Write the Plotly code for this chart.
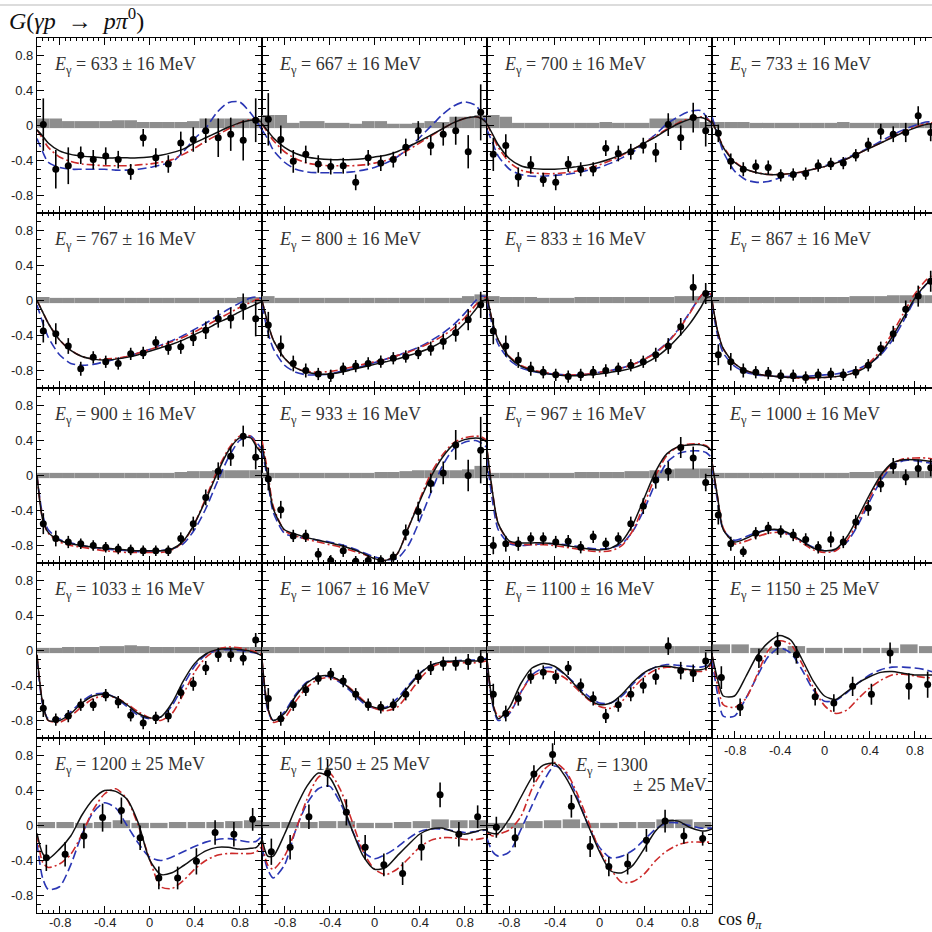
import plotly.graph_objects as go

W = H = 932
LEFT0, TOP0, PW, PH = 37, 38, 225, 175

# ---------------- data ----------------
ENERGY_LABELS = ["633 ± 16", "667 ± 16", "700 ± 16", "733 ± 16",
                 "767 ± 16", "800 ± 16", "833 ± 16", "867 ± 16",
                 "900 ± 16", "933 ± 16", "967 ± 16", "1000 ± 16",
                 "1033 ± 16", "1067 ± 16", "1100 ± 16", "1150 ± 25",
                 "1200 ± 25", "1250 ± 25", "1300 ± 25"]

COS_18 = [-0.944, -0.833, -0.722, -0.611, -0.5, -0.389, -0.278, -0.167, -0.056,
          0.056, 0.167, 0.278, 0.389, 0.5, 0.611, 0.722, 0.833, 0.944]
COS_12 = [-0.917, -0.75, -0.583, -0.417, -0.25, -0.083,
          0.083, 0.25, 0.417, 0.583, 0.75, 0.917]

CURVE_X = [-1, -0.95, -0.9, -0.8, -0.7, -0.6, -0.5, -0.4, -0.3, -0.2, -0.1, 0,
           0.1, 0.2, 0.3, 0.4, 0.5, 0.6, 0.7, 0.8, 0.9, 0.95, 1]

G_VALUES = [
    [0.01, -0.50, -0.46, -0.34, -0.39, -0.35, -0.39, -0.53, -0.14, -0.37, -0.44, -0.20, -0.16, -0.06, -0.14, -0.10, -0.17, 0.06],
    [0.07, -0.16, -0.41, -0.33, -0.44, -0.47, -0.46, -0.65, -0.37, -0.43, -0.39, -0.25, -0.06, -0.23, -0.10, -0.06, -0.30, 0.15],
    [-0.33, -0.23, -0.59, -0.45, -0.62, -0.65, -0.44, -0.50, -0.50, -0.26, -0.32, -0.30, -0.23, -0.31, 0.01, -0.14, 0.09, -0.06],
    [-0.09, -0.41, -0.50, -0.47, -0.48, -0.57, -0.56, -0.55, -0.46, -0.44, -0.43, -0.34, -0.22, -0.07, -0.10, -0.08, 0.11, -0.08],
    [-0.35, -0.38, -0.52, -0.78, -0.65, -0.70, -0.72, -0.61, -0.60, -0.48, -0.54, -0.53, -0.43, -0.34, -0.21, -0.20, -0.07, -0.21],
    [-0.28, -0.52, -0.72, -0.80, -0.84, -0.86, -0.78, -0.75, -0.72, -0.70, -0.66, -0.64, -0.60, -0.55, -0.47, -0.37, -0.22, -0.05],
    [-0.35, -0.52, -0.68, -0.78, -0.82, -0.85, -0.87, -0.85, -0.82, -0.80, -0.78, -0.74, -0.70, -0.62, -0.52, -0.30, 0.15, 0.08],
    [-0.62, -0.70, -0.80, -0.82, -0.83, -0.86, -0.86, -0.88, -0.85, -0.84, -0.85, -0.82, -0.74, -0.55, -0.38, -0.10, 0.05, 0.22],
    [-0.55, -0.72, -0.76, -0.78, -0.80, -0.82, -0.84, -0.85, -0.86, -0.86, -0.86, -0.72, -0.55, -0.25, 0.05, 0.22, 0.45, 0.21],
    [-0.04, -0.39, -0.69, -0.69, -0.90, -0.97, -0.86, -0.98, -0.97, -0.97, -0.93, -0.65, -0.41, -0.09, 0.03, 0.35, 0.00, 0.29],
    [-0.80, -0.78, -0.78, -0.72, -0.72, -0.76, -0.75, -0.82, -0.70, -0.78, -0.72, -0.55, -0.35, -0.05, 0.05, 0.32, 0.20, -0.08],
    [-0.45, -0.78, -0.87, -0.66, -0.60, -0.64, -0.68, -0.73, -0.82, -0.73, -0.76, -0.53, -0.37, -0.10, 0.11, -0.02, 0.08, 0.09],
    [-0.66, -0.79, -0.75, -0.62, -0.62, -0.51, -0.59, -0.74, -0.83, -0.77, -0.75, -0.48, -0.38, -0.20, -0.05, -0.05, -0.09, 0.12],
    [-0.55, -0.78, -0.62, -0.45, -0.32, -0.27, -0.35, -0.50, -0.62, -0.65, -0.62, -0.50, -0.30, -0.20, -0.15, -0.15, -0.13, -0.10],
    [-0.50, -0.72, -0.55, -0.30, -0.25, -0.30, -0.20, -0.40, -0.55, -0.75, -0.62, -0.50, -0.40, -0.30, 0.05, -0.23, -0.26, -0.12],
    [-0.31, -0.65, -0.09, 0.08, -0.05, -0.53, -0.60, -0.41, -0.50, -0.03, -0.41, -0.39],
    [-0.37, -0.33, -0.12, 0.09, 0.17, -0.14, -0.60, -0.60, -0.41, -0.08, -0.10, 0.07],
    [-0.30, -0.25, 0.10, 0.60, 0.15, -0.25, -0.45, -0.55, -0.25, 0.35, -0.10, 0.10],
    [-0.02, -0.14, 0.59, 0.81, 0.22, -0.24, -0.47, -0.44, -0.17, 0.05, -0.12, -0.15],
]

G_ERRORS = [
    [0.30, 0.22, 0.21, 0.10, 0.11, 0.10, 0.10, 0.09, 0.10, 0.11, 0.10, 0.13, 0.14, 0.14, 0.22, 0.19, 0.23, 0.25],
    [0.30, 0.16, 0.13, 0.10, 0.10, 0.09, 0.09, 0.09, 0.09, 0.09, 0.09, 0.10, 0.11, 0.11, 0.13, 0.16, 0.19, 0.32],
    [0.19, 0.13, 0.11, 0.10, 0.08, 0.09, 0.09, 0.08, 0.08, 0.09, 0.09, 0.09, 0.09, 0.11, 0.13, 0.14, 0.17, 0.18],
    [0.10, 0.09, 0.08, 0.08, 0.08, 0.07, 0.07, 0.07, 0.07, 0.07, 0.07, 0.07, 0.08, 0.09, 0.09, 0.11, 0.11, 0.10],
    [0.13, 0.12, 0.09, 0.08, 0.07, 0.07, 0.07, 0.07, 0.07, 0.07, 0.08, 0.08, 0.09, 0.10, 0.10, 0.12, 0.15, 0.20],
    [0.15, 0.12, 0.09, 0.08, 0.07, 0.07, 0.07, 0.07, 0.07, 0.07, 0.07, 0.07, 0.07, 0.08, 0.09, 0.10, 0.12, 0.15],
    [0.15, 0.12, 0.09, 0.08, 0.07, 0.07, 0.07, 0.07, 0.07, 0.07, 0.07, 0.07, 0.07, 0.08, 0.09, 0.10, 0.15, 0.12],
    [0.12, 0.10, 0.08, 0.07, 0.07, 0.07, 0.07, 0.07, 0.07, 0.07, 0.07, 0.07, 0.07, 0.08, 0.09, 0.10, 0.12, 0.12],
    [0.12, 0.09, 0.07, 0.06, 0.06, 0.06, 0.06, 0.06, 0.06, 0.06, 0.06, 0.07, 0.08, 0.09, 0.10, 0.11, 0.12, 0.14],
    [0.13, 0.10, 0.07, 0.07, 0.07, 0.06, 0.07, 0.06, 0.06, 0.06, 0.06, 0.09, 0.11, 0.11, 0.13, 0.17, 0.18, 0.38],
    [0.10, 0.09, 0.08, 0.07, 0.07, 0.07, 0.07, 0.07, 0.07, 0.07, 0.07, 0.08, 0.09, 0.10, 0.11, 0.12, 0.13, 0.10],
    [0.11, 0.08, 0.06, 0.07, 0.07, 0.07, 0.07, 0.07, 0.07, 0.09, 0.07, 0.08, 0.09, 0.09, 0.09, 0.09, 0.10, 0.10],
    [0.10, 0.07, 0.07, 0.07, 0.07, 0.07, 0.07, 0.07, 0.07, 0.07, 0.07, 0.07, 0.08, 0.08, 0.08, 0.08, 0.08, 0.08],
    [0.12, 0.08, 0.07, 0.07, 0.07, 0.07, 0.07, 0.07, 0.07, 0.07, 0.07, 0.07, 0.08, 0.08, 0.08, 0.08, 0.09, 0.10],
    [0.12, 0.09, 0.08, 0.08, 0.08, 0.08, 0.08, 0.08, 0.08, 0.08, 0.08, 0.08, 0.09, 0.09, 0.10, 0.10, 0.10, 0.10],
    [0.13, 0.10, 0.11, 0.13, 0.10, 0.10, 0.10, 0.11, 0.12, 0.12, 0.15, 0.15],
    [0.15, 0.14, 0.14, 0.16, 0.15, 0.14, 0.13, 0.13, 0.15, 0.14, 0.14, 0.13],
    [0.15, 0.14, 0.14, 0.16, 0.15, 0.14, 0.13, 0.13, 0.15, 0.14, 0.14, 0.13],
    [0.12, 0.11, 0.10, 0.13, 0.13, 0.12, 0.11, 0.12, 0.13, 0.13, 0.09, 0.08],
]

SYS_TOP = [
    [0.08, 0.08, 0.05, 0.05, 0.05, 0.05, 0.06, 0.06, 0.04, 0.04, 0.04, 0.04, 0.05, 0.08, 0.08, 0.08, 0.08, 0.08],
    [0.12, 0.12, 0.03, 0.05, 0.05, 0.03, 0.03, 0.02, 0.05, 0.05, 0.02, 0.02, 0.03, 0.05, 0.04, 0.10, 0.10, 0.12],
    [0.12, 0.10, 0.03, 0.03, 0.03, 0.03, 0.03, 0.03, 0.03, 0.04, 0.03, 0.03, 0.03, 0.08, 0.08, 0.08, 0.08, 0.04],
    [0.04, 0.04, 0.04, 0.03, 0.03, 0.03, 0.03, 0.03, 0.03, 0.03, 0.04, 0.03, 0.03, 0.03, 0.03, 0.03, 0.03, 0.03],
    [0.04, 0.03, 0.03, 0.03, 0.03, 0.03, 0.03, 0.03, 0.03, 0.03, 0.03, 0.03, 0.03, 0.03, 0.03, 0.03, 0.04, 0.04],
    [0.05, 0.03, 0.03, 0.03, 0.03, 0.03, 0.03, 0.03, 0.03, 0.03, 0.03, 0.03, 0.03, 0.03, 0.03, 0.03, 0.05, 0.07],
    [0.05, 0.04, 0.04, 0.04, 0.03, 0.03, 0.03, 0.04, 0.04, 0.04, 0.04, 0.04, 0.04, 0.04, 0.04, 0.05, 0.05, 0.05],
    [0.04, 0.04, 0.04, 0.04, 0.04, 0.04, 0.04, 0.04, 0.04, 0.04, 0.04, 0.05, 0.05, 0.05, 0.06, 0.06, 0.06, 0.06],
    [0.03, 0.03, 0.03, 0.03, 0.03, 0.03, 0.03, 0.03, 0.03, 0.03, 0.03, 0.04, 0.05, 0.05, 0.06, 0.06, 0.06, 0.06],
    [0.03, 0.03, 0.03, 0.03, 0.03, 0.03, 0.03, 0.03, 0.03, 0.04, 0.04, 0.05, 0.06, 0.06, 0.06, 0.06, 0.07, 0.11],
    [0.03, 0.03, 0.03, 0.03, 0.03, 0.03, 0.03, 0.04, 0.04, 0.04, 0.04, 0.05, 0.05, 0.06, 0.07, 0.08, 0.08, 0.08],
    [0.03, 0.03, 0.03, 0.03, 0.03, 0.03, 0.03, 0.03, 0.03, 0.03, 0.03, 0.04, 0.04, 0.05, 0.05, 0.05, 0.05, 0.05],
    [0.03, 0.03, 0.04, 0.04, 0.04, 0.05, 0.05, 0.06, 0.05, 0.04, 0.04, 0.04, 0.04, 0.04, 0.04, 0.04, 0.04, 0.04],
    [0.04, 0.04, 0.04, 0.04, 0.04, 0.04, 0.04, 0.04, 0.04, 0.04, 0.04, 0.04, 0.04, 0.04, 0.04, 0.04, 0.04, 0.04],
    [0.05, 0.05, 0.05, 0.05, 0.05, 0.05, 0.05, 0.05, 0.05, 0.05, 0.05, 0.05, 0.05, 0.05, 0.05, 0.05, 0.05, 0.05],
    [0.07, 0.07, 0.03, 0.03, 0.05, 0.03, 0.03, 0.03, 0.03, 0.03, 0.07, 0.05],
    [0.04, 0.04, 0.03, 0.04, 0.06, 0.03, 0.03, 0.04, 0.04, 0.04, 0.05, 0.06],
    [0.04, 0.04, 0.04, 0.05, 0.05, 0.03, 0.03, 0.04, 0.05, 0.07, 0.06, 0.06],
    [0.03, 0.03, 0.05, 0.06, 0.07, 0.03, 0.03, 0.04, 0.04, 0.07, 0.07, 0.04],
]
SYS_BASE = -0.03

MODEL_BLACK = [
    [-0.05, -0.12, -0.20, -0.29, -0.33, -0.35, -0.36, -0.37, -0.37, -0.37, -0.37, -0.36, -0.34, -0.31, -0.27, -0.20, -0.14, -0.08, -0.02, 0.03, 0.06, 0.06, 0.04],
    [0.02, -0.06, -0.14, -0.25, -0.32, -0.36, -0.38, -0.39, -0.39, -0.39, -0.38, -0.36, -0.34, -0.30, -0.24, -0.18, -0.11, -0.04, 0.03, 0.08, 0.10, 0.08, 0.03],
    [0.02, -0.10, -0.22, -0.38, -0.46, -0.49, -0.50, -0.50, -0.49, -0.47, -0.45, -0.42, -0.38, -0.33, -0.27, -0.20, -0.13, -0.05, 0.02, 0.07, 0.09, 0.07, 0.03],
    [0.05, -0.10, -0.25, -0.42, -0.50, -0.54, -0.56, -0.56, -0.55, -0.53, -0.50, -0.47, -0.43, -0.38, -0.32, -0.26, -0.20, -0.14, -0.08, -0.03, 0.01, 0.02, 0.02],
    [0.00, -0.13, -0.26, -0.45, -0.57, -0.64, -0.67, -0.68, -0.67, -0.65, -0.62, -0.58, -0.54, -0.50, -0.45, -0.39, -0.33, -0.26, -0.20, -0.13, -0.07, -0.04, -0.01],
    [0.00, -0.25, -0.45, -0.66, -0.77, -0.82, -0.84, -0.84, -0.82, -0.79, -0.76, -0.73, -0.70, -0.67, -0.63, -0.59, -0.54, -0.47, -0.38, -0.26, -0.10, -0.02, 0.02],
    [0.05, -0.25, -0.45, -0.65, -0.75, -0.80, -0.83, -0.85, -0.86, -0.86, -0.85, -0.84, -0.82, -0.80, -0.77, -0.72, -0.65, -0.55, -0.42, -0.27, -0.08, 0.03, 0.05],
    [0.00, -0.35, -0.55, -0.72, -0.80, -0.84, -0.86, -0.87, -0.88, -0.88, -0.88, -0.88, -0.87, -0.85, -0.81, -0.73, -0.60, -0.42, -0.20, 0.02, 0.18, 0.23, 0.25],
    [0.00, -0.50, -0.65, -0.74, -0.78, -0.80, -0.82, -0.83, -0.84, -0.85, -0.86, -0.86, -0.86, -0.84, -0.75, -0.55, -0.28, 0.02, 0.28, 0.43, 0.43, 0.33, 0.25],
    [0.35, 0.00, -0.38, -0.62, -0.67, -0.71, -0.74, -0.77, -0.80, -0.84, -0.89, -0.95, -0.97, -0.90, -0.60, -0.30, -0.02, 0.20, 0.35, 0.41, 0.43, 0.42, 0.38],
    [0.30, -0.20, -0.55, -0.75, -0.77, -0.77, -0.77, -0.78, -0.80, -0.82, -0.84, -0.85, -0.83, -0.75, -0.55, -0.25, 0.05, 0.25, 0.33, 0.35, 0.35, 0.33, 0.28],
    [0.15, -0.25, -0.62, -0.76, -0.72, -0.66, -0.62, -0.62, -0.67, -0.75, -0.83, -0.86, -0.84, -0.70, -0.47, -0.22, 0.00, 0.14, 0.18, 0.18, 0.17, 0.16, 0.15],
    [-0.05, -0.60, -0.80, -0.80, -0.72, -0.60, -0.52, -0.50, -0.54, -0.62, -0.72, -0.77, -0.76, -0.60, -0.35, -0.15, -0.04, 0.01, 0.02, 0.01, -0.01, -0.03, -0.06],
    [-0.10, -0.65, -0.80, -0.72, -0.52, -0.37, -0.30, -0.29, -0.35, -0.46, -0.58, -0.65, -0.66, -0.58, -0.42, -0.27, -0.17, -0.13, -0.12, -0.12, -0.12, -0.11, -0.10],
    [-0.10, -0.60, -0.78, -0.65, -0.38, -0.20, -0.15, -0.18, -0.28, -0.42, -0.55, -0.62, -0.60, -0.50, -0.36, -0.25, -0.19, -0.18, -0.20, -0.22, -0.22, -0.20, -0.12],
    [-0.05, -0.33, -0.52, -0.52, -0.30, -0.06, 0.09, 0.17, 0.12, -0.10, -0.35, -0.52, -0.56, -0.47, -0.37, -0.30, -0.25, -0.24, -0.26, -0.28, -0.28, -0.28, -0.27],
    [-0.09, -0.32, -0.38, -0.27, -0.12, 0.12, 0.30, 0.40, 0.39, 0.30, 0.03, -0.39, -0.56, -0.54, -0.46, -0.37, -0.29, -0.25, -0.25, -0.27, -0.26, -0.25, -0.17],
    [-0.15, -0.35, -0.35, -0.10, 0.20, 0.45, 0.60, 0.55, 0.30, -0.05, -0.35, -0.50, -0.48, -0.35, -0.22, -0.10, -0.04, -0.03, -0.07, -0.10, -0.07, -0.05, -0.05],
    [-0.07, -0.09, -0.09, 0.08, 0.32, 0.55, 0.69, 0.71, 0.55, 0.30, 0.00, -0.30, -0.52, -0.54, -0.45, -0.26, -0.06, 0.05, 0.05, -0.02, -0.06, -0.06, -0.04],
]

MODEL_RED = [
    [-0.05, -0.15, -0.25, -0.36, -0.41, -0.44, -0.45, -0.46, -0.46, -0.46, -0.45, -0.44, -0.42, -0.39, -0.33, -0.26, -0.18, -0.11, -0.04, 0.03, 0.07, 0.07, 0.04],
    [0.02, -0.08, -0.17, -0.30, -0.38, -0.43, -0.45, -0.46, -0.46, -0.46, -0.45, -0.43, -0.40, -0.35, -0.28, -0.20, -0.12, -0.04, 0.03, 0.08, 0.10, 0.08, 0.03],
    [0.02, -0.12, -0.25, -0.42, -0.51, -0.54, -0.55, -0.55, -0.54, -0.52, -0.49, -0.45, -0.40, -0.34, -0.27, -0.20, -0.12, -0.04, 0.03, 0.08, 0.10, 0.08, 0.03],
    [0.05, -0.10, -0.24, -0.41, -0.50, -0.54, -0.56, -0.56, -0.55, -0.53, -0.50, -0.47, -0.43, -0.38, -0.32, -0.26, -0.20, -0.13, -0.07, -0.02, 0.02, 0.03, 0.02],
    [0.00, -0.13, -0.26, -0.45, -0.57, -0.64, -0.67, -0.67, -0.66, -0.64, -0.60, -0.56, -0.52, -0.47, -0.42, -0.36, -0.29, -0.22, -0.15, -0.08, -0.02, 0.01, 0.02],
    [0.00, -0.25, -0.45, -0.66, -0.77, -0.81, -0.82, -0.81, -0.79, -0.76, -0.73, -0.70, -0.67, -0.63, -0.59, -0.54, -0.48, -0.41, -0.32, -0.20, -0.05, 0.02, 0.04],
    [0.05, -0.25, -0.45, -0.64, -0.74, -0.79, -0.82, -0.84, -0.85, -0.85, -0.84, -0.82, -0.80, -0.77, -0.73, -0.67, -0.60, -0.49, -0.34, -0.15, 0.05, 0.10, 0.06],
    [0.00, -0.35, -0.55, -0.72, -0.80, -0.84, -0.86, -0.87, -0.88, -0.89, -0.89, -0.88, -0.87, -0.85, -0.80, -0.71, -0.57, -0.38, -0.15, 0.07, 0.23, 0.28, 0.30],
    [0.00, -0.50, -0.66, -0.76, -0.80, -0.82, -0.84, -0.86, -0.87, -0.88, -0.88, -0.88, -0.88, -0.85, -0.76, -0.55, -0.26, 0.05, 0.30, 0.45, 0.45, 0.35, 0.27],
    [0.40, 0.05, -0.35, -0.63, -0.69, -0.73, -0.76, -0.79, -0.82, -0.86, -0.90, -0.95, -0.97, -0.90, -0.60, -0.28, 0.02, 0.23, 0.37, 0.43, 0.45, 0.44, 0.40],
    [0.30, -0.20, -0.55, -0.76, -0.79, -0.79, -0.79, -0.80, -0.82, -0.84, -0.86, -0.87, -0.86, -0.80, -0.62, -0.32, 0.00, 0.23, 0.33, 0.36, 0.36, 0.34, 0.28],
    [0.15, -0.25, -0.60, -0.78, -0.75, -0.70, -0.66, -0.65, -0.69, -0.77, -0.85, -0.88, -0.86, -0.74, -0.52, -0.26, -0.02, 0.13, 0.19, 0.20, 0.20, 0.19, 0.17],
    [-0.05, -0.60, -0.80, -0.82, -0.75, -0.64, -0.55, -0.52, -0.54, -0.61, -0.70, -0.77, -0.80, -0.72, -0.50, -0.25, -0.08, 0.01, 0.04, 0.03, 0.00, -0.02, -0.05],
    [-0.10, -0.65, -0.82, -0.77, -0.58, -0.42, -0.33, -0.31, -0.35, -0.45, -0.57, -0.66, -0.69, -0.65, -0.50, -0.33, -0.20, -0.14, -0.13, -0.14, -0.14, -0.13, -0.12],
    [-0.10, -0.60, -0.75, -0.70, -0.48, -0.30, -0.24, -0.25, -0.32, -0.44, -0.56, -0.64, -0.66, -0.58, -0.43, -0.30, -0.22, -0.19, -0.20, -0.23, -0.24, -0.22, -0.14],
    [-0.05, -0.40, -0.62, -0.65, -0.55, -0.28, 0.00, 0.11, 0.07, -0.15, -0.42, -0.63, -0.72, -0.68, -0.55, -0.43, -0.34, -0.28, -0.27, -0.29, -0.31, -0.31, -0.30],
    [-0.10, -0.42, -0.48, -0.44, -0.33, -0.10, 0.18, 0.36, 0.42, 0.30, 0.00, -0.38, -0.70, -0.72, -0.63, -0.50, -0.40, -0.34, -0.32, -0.32, -0.32, -0.30, -0.24],
    [-0.20, -0.45, -0.50, -0.35, -0.05, 0.30, 0.55, 0.60, 0.40, 0.05, -0.30, -0.50, -0.56, -0.50, -0.38, -0.25, -0.17, -0.14, -0.14, -0.16, -0.16, -0.15, -0.13],
    [-0.08, -0.12, -0.10, -0.05, 0.10, 0.42, 0.63, 0.72, 0.62, 0.37, 0.05, -0.28, -0.50, -0.65, -0.64, -0.55, -0.40, -0.29, -0.22, -0.19, -0.19, -0.19, -0.19],
]

MODEL_BLUE = [
    [-0.15, -0.30, -0.42, -0.48, -0.50, -0.50, -0.50, -0.50, -0.51, -0.51, -0.50, -0.48, -0.45, -0.42, -0.30, -0.15, -0.03, 0.15, 0.26, 0.27, 0.14, 0.05, -0.05],
    [-0.05, -0.15, -0.28, -0.42, -0.50, -0.53, -0.54, -0.54, -0.54, -0.53, -0.51, -0.48, -0.43, -0.36, -0.26, -0.14, -0.01, 0.12, 0.22, 0.27, 0.23, 0.14, 0.02],
    [-0.05, -0.20, -0.35, -0.50, -0.56, -0.58, -0.58, -0.57, -0.56, -0.54, -0.51, -0.48, -0.43, -0.37, -0.30, -0.20, -0.10, 0.02, 0.10, 0.16, 0.17, 0.10, 0.00],
    [0.10, -0.10, -0.30, -0.52, -0.62, -0.65, -0.64, -0.60, -0.57, -0.54, -0.50, -0.46, -0.42, -0.37, -0.31, -0.25, -0.18, -0.11, -0.05, 0.00, 0.04, 0.04, 0.02],
    [-0.05, -0.25, -0.42, -0.62, -0.72, -0.74, -0.73, -0.70, -0.67, -0.64, -0.60, -0.56, -0.51, -0.46, -0.40, -0.33, -0.26, -0.18, -0.10, -0.03, 0.03, 0.04, 0.02],
    [-0.05, -0.35, -0.55, -0.74, -0.82, -0.85, -0.85, -0.84, -0.81, -0.78, -0.75, -0.71, -0.67, -0.63, -0.58, -0.53, -0.46, -0.38, -0.28, -0.15, 0.00, 0.05, 0.04],
    [0.00, -0.30, -0.50, -0.68, -0.77, -0.81, -0.83, -0.84, -0.85, -0.85, -0.84, -0.82, -0.80, -0.77, -0.73, -0.67, -0.59, -0.48, -0.33, -0.14, 0.05, 0.10, 0.05],
    [-0.05, -0.40, -0.60, -0.75, -0.82, -0.85, -0.86, -0.87, -0.87, -0.87, -0.86, -0.85, -0.84, -0.82, -0.78, -0.72, -0.62, -0.46, -0.24, 0.00, 0.18, 0.24, 0.26],
    [0.00, -0.45, -0.62, -0.73, -0.77, -0.80, -0.82, -0.84, -0.85, -0.86, -0.87, -0.87, -0.86, -0.84, -0.78, -0.62, -0.38, -0.08, 0.20, 0.40, 0.45, 0.38, 0.30],
    [0.30, -0.05, -0.42, -0.66, -0.70, -0.72, -0.74, -0.76, -0.79, -0.83, -0.88, -0.93, -0.96, -0.95, -0.80, -0.52, -0.20, 0.10, 0.30, 0.38, 0.40, 0.37, 0.32],
    [0.20, -0.30, -0.62, -0.78, -0.80, -0.79, -0.78, -0.78, -0.79, -0.81, -0.83, -0.84, -0.83, -0.78, -0.63, -0.38, -0.08, 0.15, 0.25, 0.28, 0.28, 0.26, 0.20],
    [0.10, -0.30, -0.62, -0.74, -0.70, -0.65, -0.62, -0.63, -0.68, -0.75, -0.82, -0.86, -0.85, -0.76, -0.56, -0.30, -0.06, 0.10, 0.17, 0.17, 0.15, 0.14, 0.13],
    [-0.10, -0.62, -0.78, -0.78, -0.70, -0.58, -0.50, -0.49, -0.54, -0.64, -0.74, -0.78, -0.76, -0.63, -0.40, -0.18, -0.05, 0.00, 0.01, 0.00, -0.02, -0.03, -0.05],
    [-0.15, -0.68, -0.80, -0.70, -0.50, -0.36, -0.30, -0.30, -0.37, -0.48, -0.60, -0.66, -0.65, -0.55, -0.40, -0.26, -0.17, -0.13, -0.12, -0.11, -0.11, -0.10, -0.09],
    [-0.15, -0.62, -0.80, -0.72, -0.48, -0.28, -0.20, -0.20, -0.28, -0.40, -0.52, -0.60, -0.60, -0.52, -0.38, -0.26, -0.19, -0.16, -0.17, -0.18, -0.19, -0.17, -0.10],
    [-0.10, -0.50, -0.75, -0.75, -0.55, -0.30, -0.07, 0.03, -0.03, -0.22, -0.45, -0.58, -0.57, -0.48, -0.37, -0.28, -0.22, -0.19, -0.19, -0.20, -0.22, -0.24, -0.25],
    [-0.20, -0.60, -0.73, -0.70, -0.45, -0.10, 0.15, 0.26, 0.20, 0.00, -0.20, -0.36, -0.40, -0.36, -0.30, -0.24, -0.19, -0.16, -0.15, -0.17, -0.19, -0.18, -0.12],
    [-0.25, -0.50, -0.60, -0.45, -0.05, 0.25, 0.42, 0.45, 0.25, -0.05, -0.30, -0.38, -0.33, -0.25, -0.15, -0.07, -0.04, -0.04, -0.06, -0.08, -0.07, -0.06, -0.05],
    [-0.15, -0.30, -0.35, -0.30, -0.05, 0.23, 0.50, 0.68, 0.60, 0.33, 0.00, -0.25, -0.37, -0.35, -0.28, -0.16, -0.04, 0.03, 0.03, 0.00, -0.03, -0.03, -0.03],
]

X_TICKS = [-0.8, -0.4, 0, 0.4, 0.8]
X_TICK_TEXT = ["-0.8", "-0.4", "0", "0.4", "0.8"]
Y_TICKS = [-0.8, -0.4, 0, 0.4, 0.8]
Y_TICK_TEXT = ["-0.8", "-0.4", "0", "0.4", "0.8"]

# ---------------- figure ----------------
BLACK = "#111111"
RED = "#cc2a2a"
BLUE = "#2a36b4"
GREY = "#8e8e8e"
TICKFONT = dict(family="Liberation Sans, Arial, sans-serif", size=13, color="#222")
SERIF = "Liberation Serif, Times New Roman, serif"

fig = go.Figure()
layout = dict(width=W, height=H, margin=dict(l=0, r=0, t=0, b=0),
              paper_bgcolor="white", plot_bgcolor="white", showlegend=False,
              barmode="overlay")
annotations = []

n_panels = len(ENERGY_LABELS)
for i in range(n_panels):
    r, c = divmod(i, 4)
    sfx = "" if i == 0 else str(i + 1)
    xa, ya = "x" + sfx, "y" + sfx
    x0 = LEFT0 + PW * c
    x1 = x0 + PW
    y0 = TOP0 + PH * r
    y1 = y0 + PH
    xrange = [-1, 1]
    cut = False
    if x1 > W:
        xrange = [-1, -1 + 2 * (W - x0) / PW]
        x1 = W
        cut = True

    cos_pts = COS_18 if len(G_VALUES[i]) == 18 else COS_12
    bw = (2.0 / len(cos_pts)) * (1.0 if len(cos_pts) == 18 else 0.93)

    # systematic-error histogram
    fig.add_trace(go.Bar(x=cos_pts, y=[t - SYS_BASE for t in SYS_TOP[i]], base=SYS_BASE,
                         width=bw, marker=dict(color=GREY, line=dict(width=0)),
                         xaxis=xa, yaxis=ya, hoverinfo="skip"))
    # model curves
    fig.add_trace(go.Scatter(x=CURVE_X, y=MODEL_BLUE[i], mode="lines",
                             line=dict(color=BLUE, width=1.6, dash="9px,4px", shape="spline", smoothing=0.7),
                             xaxis=xa, yaxis=ya))
    fig.add_trace(go.Scatter(x=CURVE_X, y=MODEL_RED[i], mode="lines",
                             line=dict(color=RED, width=1.6, dash="8px,3px,2px,3px", shape="spline", smoothing=0.7),
                             xaxis=xa, yaxis=ya))
    fig.add_trace(go.Scatter(x=CURVE_X, y=MODEL_BLACK[i], mode="lines",
                             line=dict(color=BLACK, width=1.5, shape="spline", smoothing=0.7),
                             xaxis=xa, yaxis=ya))
    # data
    fig.add_trace(go.Scatter(x=cos_pts, y=G_VALUES[i], mode="markers",
                             marker=dict(color="black", size=7),
                             error_y=dict(type="data", array=G_ERRORS[i], thickness=1.6,
                                          width=0, color="black"),
                             xaxis=xa, yaxis=ya))

    bottom_labels = (r == 4) or (i == 15)
    left_labels = (c == 0)
    xname = "xaxis" + sfx
    yname = "yaxis" + sfx
    layout[xname] = dict(
        domain=[x0 / W, x1 / W], range=xrange, anchor=ya,
        showline=True, linecolor="black", linewidth=1.2, mirror="ticks",
        ticks="inside", tickmode="array", tickvals=X_TICKS,
        ticklen=7, tickwidth=1, tickcolor="black",
        minor=dict(ticks="inside", tickmode="linear", tick0=0, dtick=0.05,
                   ticklen=3, tickwidth=1, tickcolor="black", showgrid=False),
        showticklabels=False,
        showgrid=False, zeroline=False, fixedrange=True)
    layout[yname] = dict(
        domain=[1 - y1 / H, 1 - y0 / H], range=[-1, 1], anchor=xa,
        showline=True, linecolor="black", linewidth=1.2,
        mirror=(False if cut else "ticks"),
        ticks="inside", tickmode="array", tickvals=Y_TICKS, ticktext=Y_TICK_TEXT,
        ticklen=7, tickwidth=1, tickcolor="black",
        minor=dict(ticks="inside", tickmode="linear", tick0=0, dtick=0.1,
                   ticklen=4, tickwidth=1, tickcolor="black", showgrid=False),
        showticklabels=left_labels, tickfont=TICKFONT,
        showgrid=False, zeroline=False, fixedrange=True)

    # x tick labels (drawn as text positioned on the panel's own x axis)
    if bottom_labels:
        lab_y = y1 + (12 if i == 15 else 9)
        for tv, tt in zip(X_TICKS, X_TICK_TEXT):
            annotations.append(dict(xref=xa, yref="paper", x=tv, y=1 - lab_y / H,
                                    xanchor="center", yanchor="middle", showarrow=False,
                                    text=tt, font=TICKFONT))

    # energy label
    if ENERGY_LABELS[i].startswith("1300"):
        annotations.append(dict(xref="paper", yref="paper", x=(x0 + 86) / W, y=1 - (y0 + 28) / H,
                                xanchor="left", yanchor="middle", showarrow=False,
                                text="<i>E</i><sub>γ</sub> = 1300",
                                font=dict(family=SERIF, size=18, color="#333")))
        annotations.append(dict(xref="paper", yref="paper", x=(x0 + 222) / W, y=1 - (y0 + 47) / H,
                                xanchor="right", yanchor="middle", showarrow=False,
                                text="± 25 MeV",
                                font=dict(family=SERIF, size=18, color="#333")))
    else:
        annotations.append(dict(xref="paper", yref="paper", x=(x0 + 15) / W, y=1 - (y0 + 27) / H,
                                xanchor="left", yanchor="middle", showarrow=False,
                                text="<i>E</i><sub>γ</sub> = " + ENERGY_LABELS[i] + " MeV",
                                font=dict(family=SERIF, size=18, color="#333")))

annotations.append(dict(xref="paper", yref="paper", x=7 / W, y=1 - 19 / H,
                        xanchor="left", yanchor="middle", showarrow=False,
                        text="<i>G</i>(<i>γp</i>&nbsp;&nbsp;→&nbsp;&nbsp;<i>pπ</i><sup>0</sup>)",
                        font=dict(family=SERIF, size=24, color="#111")))
annotations.append(dict(xref="paper", yref="paper", x=716 / W, y=1 - 920 / H,
                        xanchor="left", yanchor="middle", showarrow=False,
                        text="cos <i>θ</i><sub><i>π</i></sub>",
                        font=dict(family=SERIF, size=18, color="#111")))
layout["annotations"] = annotations
layout["shapes"] = [dict(type="line", xref="paper", yref="paper", x0=0, x1=1,
                         y0=1 - 5 / H, y1=1 - 5 / H, line=dict(color="#dcdcdc", width=2))]

fig.update_layout(**layout)
fig.write_html("out.html", config={"displayModeBar": False},
               post_script="document.body.style.margin='0px';document.body.style.overflow='hidden';")
